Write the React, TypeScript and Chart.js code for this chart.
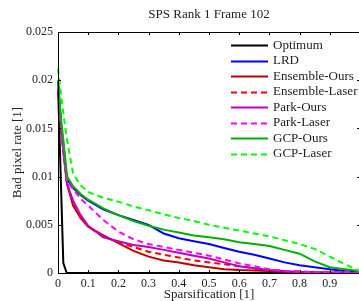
import React, { useEffect, useRef } from "react";
import { Chart, registerables } from "chart.js";

Chart.register(...registerables);

const title = "SPS Rank 1 Frame 102";
const xTitle = "Sparsification [1]";
const yTitle = "Bad pixel rate [1]";

const xs = [0, 0.01, 0.02, 0.03, 0.05, 0.075, 0.1, 0.15, 0.2, 0.25, 0.3, 0.35, 0.4, 0.45, 0.5, 0.55, 0.6, 0.65, 0.7, 0.75, 0.8, 0.85, 0.9, 0.95, 1.0];

const optimumX = [0, 0.0176, 0.029, 1];
const optimumY = [0.0195, 0.00104, 0, 0];

const lrd = [0.0198, 0.0155, 0.0125, 0.0097, 0.0088, 0.0081, 0.0075, 0.0066, 0.006, 0.0055, 0.005, 0.0041, 0.0036, 0.0033, 0.003, 0.0026, 0.0022, 0.0019, 0.0015, 0.0011, 0.0008, 0.0006, 0.0004, 0.0002, 0.0001];
const ensembleOurs = [0.0195, 0.015, 0.012, 0.0092, 0.007, 0.0057, 0.0048, 0.0039, 0.0031, 0.0023, 0.0017, 0.0013, 0.0011, 0.0008, 0.0006, 0.0004, 0.0003, 0.00025, 0.0002, 0.00012, 0.0001, 0.00005, 0.00003, 0.00001, 0];
const ensembleLaser = [0.0195, 0.015, 0.012, 0.0093, 0.0073, 0.0058, 0.0048, 0.0038, 0.0032, 0.0027, 0.0022, 0.0019, 0.0016, 0.0013, 0.0011, 0.0009, 0.0007, 0.0005, 0.0003, 0.0002, 0.00015, 0.0001, 0.0001, 0.00005, 0];
const parkOurs = [0.0195, 0.015, 0.012, 0.0092, 0.0075, 0.006, 0.0049, 0.0037, 0.0033, 0.0029, 0.0027, 0.0024, 0.0021, 0.0018, 0.0015, 0.0011, 0.0007, 0.0005, 0.0003, 0.0002, 0.0001, 0.0001, 0.00005, 0.00003, 0];
const parkLaser = [0.0195, 0.015, 0.012, 0.0095, 0.0087, 0.0077, 0.007, 0.0055, 0.0043, 0.0035, 0.003, 0.0027, 0.0024, 0.0021, 0.0018, 0.0014, 0.001, 0.0007, 0.0004, 0.0002, 0.00015, 0.0001, 0.0001, 0.0001, 0];
const gcpOurs = [0.02, 0.016, 0.0132, 0.01, 0.009, 0.0082, 0.0076, 0.0067, 0.006, 0.0054, 0.0049, 0.0045, 0.0042, 0.0039, 0.0037, 0.0035, 0.0032, 0.003, 0.0028, 0.0024, 0.002, 0.0012, 0.0006, 0.0004, 0.0002];
const gcpLaser = [0.0212, 0.0185, 0.016, 0.0138, 0.0103, 0.0091, 0.0084, 0.0078, 0.0074, 0.0069, 0.0065, 0.0061, 0.0057, 0.0054, 0.005, 0.0047, 0.0044, 0.0041, 0.0038, 0.0034, 0.003, 0.0025, 0.0017, 0.0009, 0.0002];

const seriesNames = ["Optimum", "LRD", "Ensemble-Ours", "Ensemble-Laser", "Park-Ours", "Park-Laser", "GCP-Ours", "GCP-Laser"];
const seriesColors = ["#000000", "#0000ff", "#bf0000", "#ff0000", "#bf00bf", "#ff00ff", "#00b000", "#00ff00"];
const seriesDashed = [false, false, false, true, false, true, false, true];

const xTicks = [0, 0.1, 0.2, 0.3, 0.4, 0.5, 0.6, 0.7, 0.8, 0.9, 1];
const yTicks = [0, 0.005, 0.01, 0.015, 0.02, 0.025];

const FONT = "'Liberation Serif', 'DejaVu Serif', serif";
const DASH = [6, 4];

const decorPlugin = {
  id: "decor",
  afterDraw(chart: any) {
    const ctx = chart.ctx;
    const { left, right, top, bottom } = chart.chartArea;
    const xs_ = chart.scales.x;
    const ys_ = chart.scales.y;
    ctx.save();
    ctx.strokeStyle = "#000";
    ctx.lineWidth = 1;
    // top and left border
    ctx.beginPath();
    ctx.moveTo(left, top + 0.5);
    ctx.lineTo(right, top + 0.5);
    ctx.moveTo(left + 0.5, top);
    ctx.lineTo(left + 0.5, bottom);
    ctx.moveTo(left, bottom + 0.5);
    ctx.lineTo(right, bottom + 0.5);
    ctx.stroke();
    // inward ticks
    ctx.beginPath();
    xTicks.forEach((v) => {
      const px = Math.round(xs_.getPixelForValue(v)) + 0.5;
      ctx.moveTo(px, bottom);
      ctx.lineTo(px, bottom - 3);
      ctx.moveTo(px, top);
      ctx.lineTo(px, top + 3);
    });
    yTicks.forEach((v) => {
      const py = Math.round(ys_.getPixelForValue(v)) + 0.5;
      ctx.moveTo(left, py);
      ctx.lineTo(left + 3, py);
      ctx.moveTo(right, py);
      ctx.lineTo(right - 3, py);
    });
    ctx.stroke();

    // title
    ctx.fillStyle = "#222";
    ctx.font = `13px ${FONT}`;
    ctx.textAlign = "center";
    ctx.textBaseline = "middle";
    ctx.fillText(title, (left + right) / 2, 15);
    ctx.fillText(xTitle, (left + right) / 2, 295);
    ctx.save();
    ctx.translate(18, (top + bottom) / 2);
    ctx.rotate(-Math.PI / 2);
    ctx.fillText(yTitle, 0, 0);
    ctx.restore();

    // legend
    ctx.textAlign = "left";
    seriesNames.forEach((name, i) => {
      const y = 45 + i * 15.5;
      ctx.strokeStyle = seriesColors[i];
      ctx.lineWidth = 2;
      ctx.setLineDash(seriesDashed[i] ? DASH : []);
      ctx.beginPath();
      ctx.moveTo(231, Math.round(y) + 0.5);
      ctx.lineTo(268, Math.round(y) + 0.5);
      ctx.stroke();
      ctx.setLineDash([]);
      ctx.fillStyle = "#222";
      ctx.fillText(name, 273, y + 0.5);
    });
    ctx.restore();
  },
};

export default function App() {
  const ref = useRef<HTMLCanvasElement | null>(null);
  useEffect(() => {
    if (!ref.current) return;
    const seriesValues = [null, lrd, ensembleOurs, ensembleLaser, parkOurs, parkLaser, gcpOurs, gcpLaser];
    const N = seriesNames.length;
    const datasets = seriesNames.map((name, i) => {
      const data =
        i === 0
          ? optimumX.map((x, k) => ({ x, y: optimumY[k] }))
          : xs.map((x, k) => ({ x, y: (seriesValues[i] as number[])[k] }));
      return {
        label: name,
        data,
        borderColor: seriesColors[i],
        backgroundColor: seriesColors[i],
        borderWidth: 2,
        borderDash: seriesDashed[i] ? DASH : [],
        pointRadius: 0,
        tension: 0,
        clip: false as any,
        order: N - i,
      };
    });
    const chart = new Chart(ref.current, {
      type: "line",
      data: { datasets },
      options: {
        animation: false,
        responsive: false,
        devicePixelRatio: 1,
        layout: { padding: { left: 0, top: 32, right: 20, bottom: 0 } },
        plugins: { legend: { display: false }, tooltip: { enabled: false }, title: { display: false } },
        scales: {
          x: {
            type: "linear",
            min: 0,
            max: 1,
            afterFit: (s: any) => {
              s.height = 28;
            },
            afterBuildTicks: (s: any) => {
              s.ticks = xTicks.map((v) => ({ value: v }));
            },
            grid: { display: false, drawTicks: false },
            border: { display: false },
            ticks: {
              padding: 4,
              color: "#222",
              font: { family: FONT, size: 12 },
              maxRotation: 0,
              autoSkip: false,
              callback: (v: any) => (Number(v) >= 1 ? "" : String(Number(Number(v).toFixed(1)))),
            },
          },
          y: {
            type: "linear",
            min: 0,
            max: 0.025,
            afterFit: (s: any) => {
              s.width = 58;
            },
            afterBuildTicks: (s: any) => {
              s.ticks = yTicks.map((v) => ({ value: v }));
            },
            grid: { display: false, drawTicks: false },
            border: { display: false },
            ticks: {
              padding: 5,
              color: "#222",
              font: { family: FONT, size: 12 },
              autoSkip: false,
              callback: (v: any) => String(Number(Number(v).toFixed(3))),
            },
          },
        },
      },
      plugins: [decorPlugin],
    });
    return () => chart.destroy();
  }, []);
  return (
    <div style={{ position: "fixed", left: 0, top: 0, width: 359, height: 301, overflow: "hidden", background: "#fff" }}>
      <canvas ref={ref} width={380} height={301} style={{ width: 380, height: 301, display: "block" }} />
    </div>
  );
}
